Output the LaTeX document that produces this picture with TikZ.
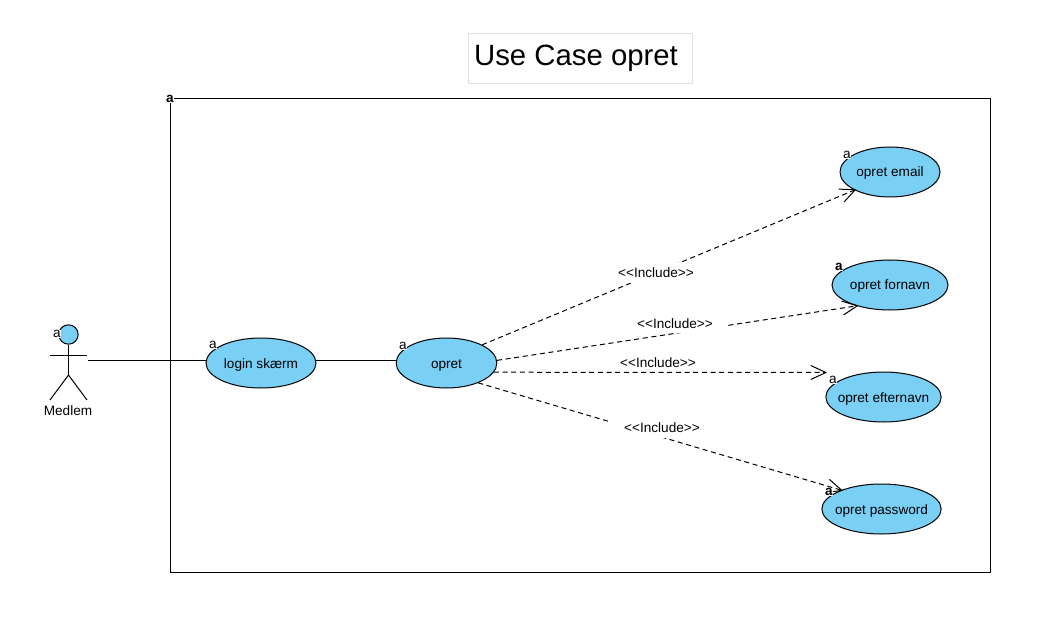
\documentclass[tikz,border=0pt]{standalone}
\usepackage{fontspec}
\setmainfont{Liberation Sans}
\usetikzlibrary{arrows.meta,shapes.geometric}
\definecolor{ucblue}{HTML}{7ACFF5}
\definecolor{boxgray}{HTML}{E0E0E0}
\newcommand{\ucname}[1]{\raisebox{-3.75pt}[0pt][0pt]{\makebox[0pt]{#1}}}
\tikzset{
    usecase/.style={ellipse,draw,fill=ucblue,inner sep=0pt,minimum height=37.5pt,font=\fontsize{10.2}{12}\selectfont},
    tagmark/.style={fill=white,inner sep=0.4pt,font=\fontsize{10.2}{12}\selectfont},
    tagbold/.style={tagmark,font=\fontsize{10.2}{12}\selectfont\bfseries},
    incl/.style={draw=none,fill=white,inner xsep=0pt,inner ysep=0pt,font=\fontsize{10.2}{12}\selectfont},
    dep/.style={dashed,dash pattern=on 3.75pt off 2.75pt,shorten >=-1.5pt,-{Straight Barb[length=11.25pt,width=10.5pt]}}
}

\begin{document}
\begin{tikzpicture}[x=0.75pt,y=-0.75pt,line width=0.75pt]
    \useasboundingbox (0,0) rectangle (1056,627);

    \node[draw=boxgray,minimum width=168pt,minimum height=37.5pt,inner sep=0pt] (titlebox) at (580,58.5) {};
    \node[font=\fontsize{22}{26}\selectfont,inner sep=0pt] (title) at (576,58) {Use Case opret};

    \draw (170,98.5) rectangle (990,572);
    \node[tagbold] (systag) at (170,98.5) {a};

    \node[usecase,minimum width=82.5pt] (login) at (261,363) {\ucname{login skærm}};
    \node[usecase,minimum width=75.5pt] (opret) at (446.5,363) {\ucname{opret}};
    \node[usecase,minimum width=75pt] (email) at (890,172) {\ucname{opret email}};
    \node[usecase,minimum width=87pt] (fornavn) at (890,285) {\ucname{opret fornavn}};
    \node[usecase,minimum width=86.5pt] (efternavn) at (883.5,397) {\ucname{opret efternavn}};
    \node[usecase,minimum width=89.5pt] (password) at (881.5,509) {\ucname{opret password}};

    \node[circle,draw,fill=ucblue,minimum size=14.5pt,inner sep=0pt] (head) at (68.5,334.5) {};
    \coordinate (hip) at (68.5,375);
    \coordinate (armleft) at (50,355);
    \coordinate (armright) at (87,355);
    \coordinate (footleft) at (50,400);
    \coordinate (footright) at (87,400);
    \coordinate (actorend) at (88,360);
    \coordinate (efterend) at (825,372.5);
    \draw (head.south) -- (hip);
    \draw (armleft) -- (armright);
    \draw (footleft) -- (hip) -- (footright);
    \node[font=\fontsize{10.2}{12}\selectfont,inner sep=0pt] (medlem) at (68,411) {Medlem};

    \draw (actorend) -- (actorend -| login.west);
    \draw (login.3) -- (login.3 -| opret.west);

    \draw[dep] (opret.27) -- (email.207);
    \draw[dep] (opret.3) -- (fornavn.212);
    \draw[dep] (opret.-11) -- (efterend);
    \draw[dep] (opret.-32) -- (password.155);

    \node[incl,minimum width=57pt,minimum height=14.25pt] (inclemail) at (656,273) {<{}<Include>{}>};
    \node[incl,minimum width=78pt,minimum height=13.5pt] (inclfornavn) at (675,323.5) {<{}<Include>{}>};
    \node[incl] (inclefter) at (658,362.5) {<{}<Include>{}>};
    \node[incl,minimum width=81pt,minimum height=15pt] (inclpassword) at (662,427.5) {<{}<Include>{}>};

    \node[tagmark] (logintag) at (213,345) {a};
    \node[tagmark] (opretag) at (403,346) {a};
    \node[tagmark] (emailtag) at (847,155) {a};
    \node[tagbold] (fornavntag) at (839,267) {a};
    \node[tagmark] (eftertag) at (833,380) {a};
    \node[tagbold] (passwordtag) at (829,492) {a};
    \node[tagmark] (actortag) at (57,334) {a};
\end{tikzpicture}
\end{document}
